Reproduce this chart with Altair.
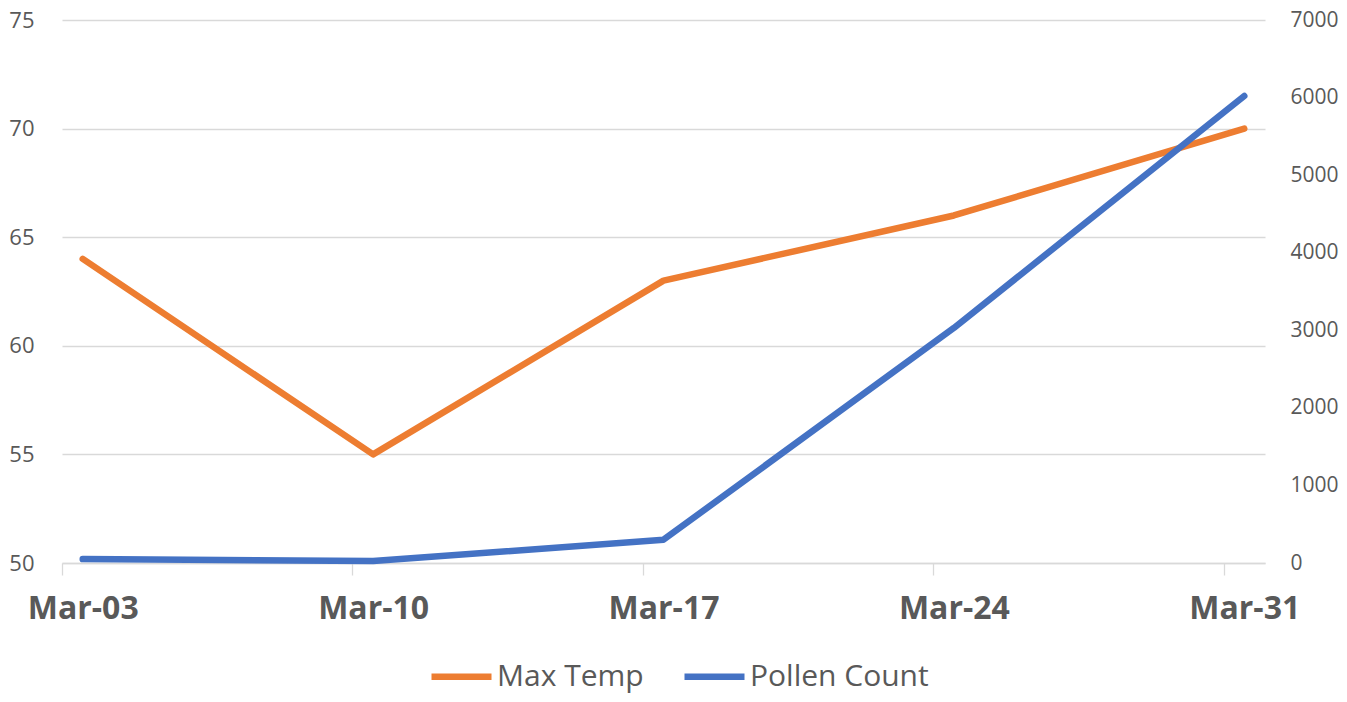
import altair as alt
import pandas as pd

days = [3, 10, 17, 24, 31]
max_temp = [64, 55, 63, 66, 70]
pollen = [50, 25, 300, 3030, 6020]
series = ["Max Temp", "Pollen Count"]
colors = ["#ED7D31", "#4472C4"]
left_ticks = [50, 55, 60, 65, 70, 75]
right_ticks = [0, 1000, 2000, 3000, 4000, 5000, 6000, 7000]
tick_days = [d - 0.5 for d in days]

df = pd.DataFrame({"day": days, "max_temp": max_temp, "pollen": pollen})

W, H = 1203, 543
FONT = "Open Sans"
TXT = "#595959"
GRID = "#d9d9d9"
LW = 6.5
xscale = alt.Scale(domain=[2.5, 31.5], nice=False, zero=False)

x_ticks = alt.X(
    "day:Q",
    scale=xscale,
    axis=alt.Axis(
        values=tick_days,
        orient="bottom",
        title=None,
        grid=False,
        labels=False,
        domain=True,
        domainColor=GRID,
        domainWidth=1.3,
        ticks=True,
        tickColor=GRID,
        tickWidth=1.3,
        tickSize=12,
        zindex=0,
    ),
)
x_labels = alt.X(
    "day:Q",
    scale=xscale,
    axis=alt.Axis(
        values=days,
        orient="bottom",
        title=None,
        grid=False,
        domain=False,
        ticks=False,
        tickSize=0,
        labelExpr="'Mar-' + (datum.value < 10 ? '0' : '') + datum.value",
        labelFont=FONT,
        labelFontSize=32,
        labelFontWeight="bold",
        labelColor=TXT,
        labelPadding=30,
    ),
)

legend = alt.Legend(
    title=None,
    orient="none",
    direction="horizontal",
    legendX=366,
    legendY=623,
    symbolType="stroke",
    symbolSize=3600,
    symbolStrokeWidth=LW,
    labelFont=FONT,
    labelFontSize=30,
    labelColor=TXT,
    labelOffset=2,
    labelLimit=400,
    columnPadding=27,
)
color = alt.Color("series:N", scale=alt.Scale(domain=series, range=colors), legend=legend)

temp = alt.Chart(df).transform_calculate(series="'Max Temp'").mark_line(
    strokeWidth=LW, strokeCap="round", strokeJoin="round"
).encode(
    x=x_ticks,
    y=alt.Y(
        "max_temp:Q",
        scale=alt.Scale(domain=[50, 75], nice=False, zero=False),
        axis=alt.Axis(
            values=left_ticks,
            title=None,
            orient="left",
            grid=True,
            gridColor=GRID,
            gridWidth=1.3,
            domain=False,
            ticks=False,
            tickSize=0,
            labelPadding=28,
            labelFont=FONT,
            labelFontSize=22,
            labelColor=TXT,
        ),
    ),
    color=color,
)

pol = alt.Chart(df).transform_calculate(series="'Pollen Count'").mark_line(
    strokeWidth=LW, strokeCap="round", strokeJoin="round"
).encode(
    x=x_labels,
    y=alt.Y(
        "pollen:Q",
        scale=alt.Scale(domain=[0, 7000], nice=False, zero=False),
        axis=alt.Axis(
            values=right_ticks,
            format="d",
            title=None,
            orient="right",
            grid=False,
            domain=False,
            ticks=False,
            tickSize=0,
            labelPadding=25,
            labelFont=FONT,
            labelFontSize=21,
            labelColor=TXT,
        ),
    ),
    color=color,
)

chart = (
    alt.layer(temp, pol)
    .resolve_scale(y="independent")
    .resolve_axis(x="independent")
    .properties(
        width=W,
        height=H,
        autosize=alt.AutoSizeParams(type="none"),
        padding={"left": 54, "top": 12, "right": 74, "bottom": 131},
        background="white",
    )
    .configure_view(stroke=None)
)

chart.save("out.html", embed_options={"renderer": "svg", "actions": False})
